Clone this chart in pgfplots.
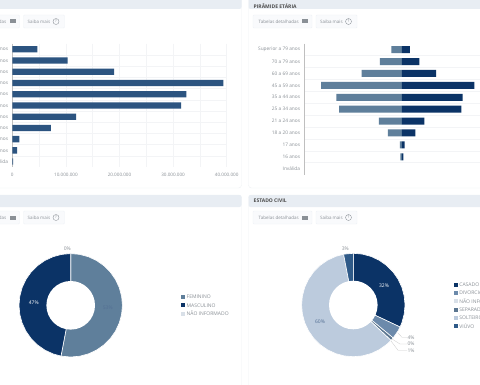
\documentclass[border=0pt]{standalone}
\usepackage{fontspec}
\setmainfont{Open Sans}
\usepackage{pgfplots}
\pgfplotsset{compat=1.18}
\usepgfplotslibrary{polar}
\definecolor{hdr}{HTML}{E8EDF3}
\definecolor{cardline}{HTML}{EEF1F4}
\definecolor{txt}{HTML}{8A9096}
\definecolor{gridc}{HTML}{F3F4F6}
\definecolor{barblue}{HTML}{2C5480}
\definecolor{navy}{HTML}{0B3366}
\definecolor{steel}{HTML}{5F7F9B}
\definecolor{divo}{HTML}{6C8AAB}
\definecolor{naoinf}{HTML}{D9E0E8}
\definecolor{solt}{HTML}{BCCBDD}
\definecolor{viuvo}{HTML}{2F5A88}
\definecolor{sepa}{HTML}{5B7690}
\newcommand{\card}[4]{% x1 ytop x2 ybottom
  \draw[cardline,fill=white,rounded corners=3pt] (#1pt,384pt-#2pt) rectangle (#3pt,384pt-#4pt);
  \fill[hdr,rounded corners=2pt] (#1pt,384pt-#2pt) rectangle (#3pt,384pt-#2pt-12pt);}
\newcommand{\btn}[3]{% x1 x2 ytop
  \draw[hdr!70,fill=hdr!25,rounded corners=1pt] (#1pt,384pt-#3pt) rectangle (#2pt,384pt-#3pt-13pt);}
\newcommand{\buttons}[2]{% xoffset ytop
  \begin{scope}[xshift=#1pt]
  \btn{253}{312}{#2}\btn{316}{357}{#2}
  \node[anchor=west,font=\fontsize{4.5}{6}\selectfont,text=txt,inner sep=0pt] at (258.5pt,384pt-#2pt-6.5pt) {Tabelas detalhadas};
  \fill[txt] (302pt,384pt-#2pt-4.5pt) rectangle (308pt,384pt-#2pt-8.5pt);
  \node[anchor=west,font=\fontsize{4.5}{6}\selectfont,text=txt,inner sep=0pt] at (320pt,384pt-#2pt-6.5pt) {Saiba mais};
  \draw[txt,line width=.35pt] (348.5pt,384pt-#2pt-6.5pt) circle (3pt);
  \node[font=\fontsize{4}{5}\selectfont,text=txt,inner sep=0pt] at (348.5pt,384pt-#2pt-6.5pt) {?};
  \end{scope}}
\newcommand{\pct}[4]{\node[font=\fontsize{5}{6}\selectfont,text=#4,inner sep=0pt] at (#1pt,384pt-#2pt) {#3};}
\newcommand{\legsq}[4]{\fill[#3] (#1pt-2pt,384pt-#2pt-2pt) rectangle (#1pt+2pt,384pt-#2pt+2pt);
  \node[anchor=west,font=\fontsize{5}{6}\selectfont,text=txt,inner sep=0pt] at (#1pt+3.5pt,384pt-#2pt) {#4};}
\pgfplotsset{
  cat/.style={
    scale only axis, y dir=reverse, ymin=-0.5, ymax=10.5,
    ytick={0,...,10}, ytick style={draw=none},
    yticklabels={Superior a 79 anos,70 a 79 anos,60 a 69 anos,45 a 59 anos,35 a 44 anos,25 a 34 anos,21 a 24 anos,18 a 20 anos,17 anos,16 anos,Inválida},
    minor ytick={0.5,1.5,...,9.5}, minor y tick style={draw=none},
    minor y grid style={gridc,line width=.5pt}, yminorgrids,
    tick label style={font=\fontsize{4.8}{6}\selectfont,text=txt},
    xticklabel style={font=\fontsize{4.6}{6}\selectfont},
    yticklabel style={inner xsep=0pt,xshift=-4pt},
    axis line style={draw=none},
    clip=false,
  },
  donut/.style={
    scale only axis, hide axis, width=103.4pt, height=103.4pt,
    anchor=center, ymin=0, ymax=1, xmin=0, xmax=360, clip=false,
  },
  wedge/.style={fill=#1, draw=white, line width=.6pt},
}
\begin{document}
\begin{tikzpicture}[x=1pt,y=1pt]
\useasboundingbox (0,0) rectangle (480pt,384pt);
\fill[white] (0,0) rectangle (480pt,384pt);
% cards
\card{-8}{-3}{241.5}{188}
\card{248.5}{-3}{490}{188}
\card{-8}{195}{241.5}{395}
\card{248.5}{195}{490}{395}
\node[anchor=west,font=\fontsize{5}{6}\selectfont\bfseries,text=black!70,inner sep=0pt] at (253.5pt,378pt) {PIRÂMIDE ETÁRIA};
\node[anchor=west,font=\fontsize{5}{6}\selectfont\bfseries,text=black!70,inner sep=0pt] at (253.5pt,183pt) {ESTADO CIVIL};
\buttons{0}{15}\buttons{0}{211}
\buttons{-292.5}{15}\buttons{-292.5}{211}

% age bars
\begin{axis}[cat, at={(12.3pt,340.3pt)}, anchor=north west, width=214.4pt, height=123.5pt,
  xmin=0, xmax=40, xtick={0,10,20,30,40},
  xticklabels={0,10.000.000,20.000.000,30.000.000,40.000.000},
  xtick style={draw=none}, minor xtick={5,15,25,35},
  minor x tick style={draw=none}, xmajorgrids, xminorgrids,
  major x grid style={gridc,line width=.5pt}, minor x grid style={gridc,line width=.5pt},
  xticklabel style={yshift=-2pt}]
\draw[black!25,line width=.4pt] (axis cs:0,-0.5) -- (axis cs:0,10.5);
\addplot[xbar, bar width=6.3pt, bar shift=0pt, fill=barblue, draw=none] coordinates {
 (4.7,0) (10.3,1) (19.0,2) (39.4,3) (32.5,4) (31.5,5) (11.9,6) (7.2,7) (1.3,8) (0.9,9) (0.15,10)};
\end{axis}

% pyramid
\begin{axis}[cat, at={(304.3pt,340.3pt)}, anchor=north west, width=195pt, height=130.9pt,
  xmin=-25, xmax=25, xtick=\empty]
\draw[black!25,line width=.4pt] (axis cs:-25,-0.5) -- (axis cs:-25,10.5);
\addplot[xbar, bar width=7pt, bar shift=0pt, fill=steel, draw=none] coordinates {
 (-2.65,0) (-5.6,1) (-10.3,2) (-20.7,3) (-16.8,4) (-16.1,5) (-5.9,6) (-3.6,7) (-0.5,8) (-0.35,9)};
\addplot[xbar, bar width=7pt, bar shift=0pt, fill=navy, draw=none] coordinates {
 (2.1,0) (4.5,1) (8.8,2) (18.6,3) (15.6,4) (15.3,5) (5.8,6) (3.5,7) (0.7,8) (0.4,9)};
\end{axis}

% sex donut: 53, 47, 0
\begin{polaraxis}[donut, at={(70.7pt,78.7pt)}]
\addplot[wedge=steel] coordinates {(0,0) (90,1) (80,1) (70,1) (60,1) (50,1) (40,1) (30,1) (20,1) (10,1) (0,1) (350,1) (340,1) (330,1) (320,1) (310,1) (300,1) (290,1) (280,1) (270,1) (260,1) (259.2,1) (0,0)};
\addplot[wedge=navy] coordinates {(0,0) (259.2,1) (250,1) (240,1) (230,1) (220,1) (210,1) (200,1) (190,1) (180,1) (170,1) (160,1) (150,1) (140,1) (130,1) (120,1) (110,1) (100,1) (90,1) (0,0)};
\fill[white] (axis cs:0,0) circle[radius=24.3pt];
\end{polaraxis}
\pct{107.7}{307.7}{53\%}{navy!70}
\pct{33.7}{302.3}{47\%}{white}
\pct{67.3}{248.3}{0\%}{txt}
\legsq{183}{297}{steel}{FEMININO}
\legsq{183}{305.3}{navy}{MASCULINO}
\legsq{183}{313.7}{naoinf}{NÃO INFORMADO}

% civil donut: 32, 4, 0, 1, 60, 3
\begin{polaraxis}[donut, at={(353.3pt,79pt)}]
\addplot[wedge=navy] coordinates {(0,0) (90,1) (80,1) (70,1) (60,1) (50,1) (40,1) (30,1) (20,1) (10,1) (0,1) (350,1) (340,1) (334.8,1) (0,0)};
\addplot[wedge=divo] coordinates {(0,0) (334.8,1) (330,1) (320.4,1) (0,0)};
\addplot[wedge=sepa] coordinates {(0,0) (320.4,1) (316.8,1) (0,0)};
\addplot[wedge=solt] coordinates {(0,0) (316.8,1) (310,1) (300,1) (290,1) (280,1) (270,1) (260,1) (250,1) (240,1) (230,1) (220,1) (210,1) (200,1) (190,1) (180,1) (170,1) (160,1) (150,1) (140,1) (130,1) (120,1) (110,1) (100.8,1) (0,0)};
\addplot[wedge=viuvo] coordinates {(0,0) (100.8,1) (90,1) (0,0)};
\fill[white] (axis cs:0,0) circle[radius=24.3pt];
\end{polaraxis}
\pct{384}{285.7}{32\%}{white}
\pct{320}{322}{60\%}{navy!70}
\pct{345.3}{248.7}{3\%}{txt}
\pct{411}{337.3}{4\%}{txt}
\pct{411}{344}{0\%}{txt}
\pct{411}{350.3}{1\%}{txt}
\draw[black!20,line width=.3pt] (398pt,384pt-333pt) -- (402pt,384pt-337.3pt) -- (407pt,384pt-337.3pt);
\draw[black!20,line width=.3pt] (392pt,384pt-339pt) -- (400pt,384pt-344pt) -- (407pt,384pt-344pt);
\draw[black!20,line width=.3pt] (391pt,384pt-341pt) -- (398pt,384pt-350.3pt) -- (407pt,384pt-350.3pt);
\legsq{455.7}{284.7}{navy}{CASADO}
\legsq{455.7}{293}{divo}{DIVORCIADO}
\legsq{455.7}{301.3}{naoinf}{NÃO INFORMADO}
\legsq{455.7}{309.7}{sepa}{SEPARADO}
\legsq{455.7}{318}{solt}{SOLTEIRO}
\legsq{455.7}{326.3}{viuvo}{VIÚVO}
\end{tikzpicture}
\end{document}
